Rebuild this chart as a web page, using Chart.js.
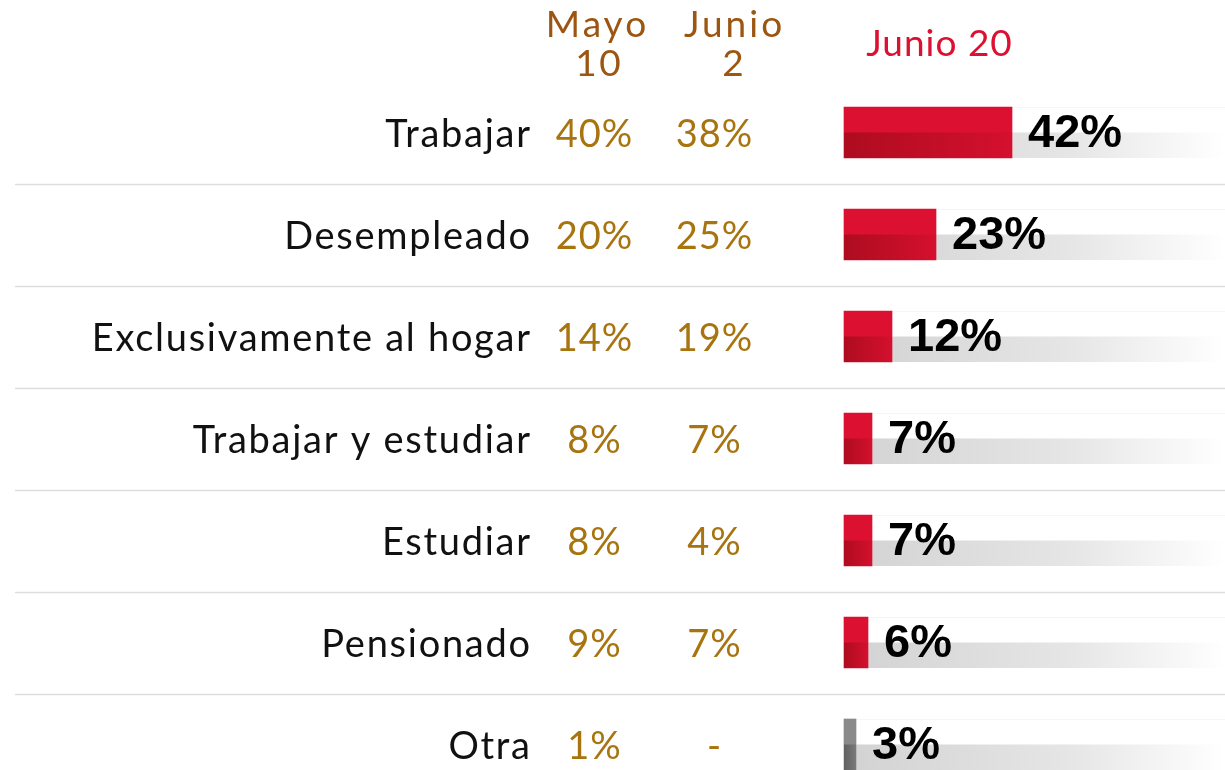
<!DOCTYPE html>
<html lang="es">
<head>
<meta charset="utf-8">
<title>Actividad principal</title>
<script src="https://cdn.jsdelivr.net/npm/chart.js@4.4.1/dist/chart.umd.min.js"></script>
<style>
    html, body { margin: 0; padding: 0; background: #ffffff; }
    #contenedor { width: 1225px; height: 770px; position: relative; }
</style>
</head>
<body>
<div id="contenedor"><canvas id="graficaActividad"></canvas></div>
<script>
// Categorías (filas de la tabla)
const categorias = ['Trabajar', 'Desempleado', 'Exclusivamente al hogar', 'Trabajar y estudiar', 'Estudiar', 'Pensionado', 'Otra'];

// Mediciones anteriores (se muestran como texto)
const mayo10 = [40, 20, 14, 8, 8, 9, 1];
const junio2 = [38, 25, 19, 7, 4, 7, null];

// Medición actual (barras)
const junio20 = [42, 23, 12, 7, 7, 6, 3];

// Encabezados de columna
const encabezadoMayo = ['Mayo', '10'];
const encabezadoJunio = ['Junio', '2'];
const encabezadoActual = 'Junio 20';

// Colores
const ROJO = '#dc1030';
const ROJO_OSCURO = '#ae0c20';
const GRIS = '#8a8a8a';
const GRIS_OSCURO = '#606060';
const CAFE = '#9c5612';
const DORADO = '#a8740f';
const FUENTE = 'Lato, "Noto Sans", sans-serif';

// Posiciones de las columnas de texto
const X_ETIQUETA = 530;
const X_MAYO = 594;
const X_JUNIO = 714;
const ANCHO_ETIQUETA_MAX = 440; // ancho de la etiqueta más larga

// Dibuja texto con espaciado entre letras (compensa el espacio final)
function textoAjustado(ctx, texto, x, y, espaciado) {
    ctx.letterSpacing = espaciado + 'px';
    let dx = 0;
    if (ctx.textAlign === 'right') dx = espaciado;
    if (ctx.textAlign === 'center') dx = espaciado / 2;
    ctx.fillText(texto, x + dx, y);
    ctx.letterSpacing = '0px';
}

// Plugin: columnas de texto, encabezados y líneas separadoras
const tablaTexto = {
    id: 'tablaTexto',
    beforeDatasetsDraw(chart) {
        const ctx = chart.ctx;
        const y = chart.scales.y;
        const area = chart.chartArea;
        const paso = y.getPixelForValue(1) - y.getPixelForValue(0);

        ctx.save();
        // Líneas separadoras entre filas
        ctx.strokeStyle = '#dedede';
        ctx.lineWidth = 1.5;
        for (let i = 0; i < categorias.length - 1; i++) {
            const yl = Math.round(y.getPixelForValue(i) + paso / 2) + 0.5;
            ctx.beginPath();
            ctx.moveTo(15, yl);
            ctx.lineTo(chart.width, yl);
            ctx.stroke();
        }

        // Pista gris bajo cada barra (mitad inferior)
        const meta = chart.getDatasetMeta(0);
        meta.data.forEach((barra) => {
            const arriba = barra.y - barra.height / 2;
            const medio = barra.y;
            const abajo = barra.y + barra.height / 2;
            const grad = ctx.createLinearGradient(barra.base, 0, area.right, 0);
            grad.addColorStop(0, '#d2d2d2');
            grad.addColorStop(0.6, '#e6e6e6');
            grad.addColorStop(1, '#ffffff');
            ctx.fillStyle = grad;
            ctx.fillRect(barra.base, medio, area.right - barra.base, abajo - medio);
            ctx.fillStyle = '#f6f6f6';
            ctx.fillRect(barra.base, arriba, area.right - barra.base, 1);
        });

        // Etiquetas de categoría: espaciado calculado según la más larga
        ctx.textBaseline = 'middle';
        ctx.font = '400 38px ' + FUENTE;
        const larga = categorias.reduce((a, b) => (b.length > a.length ? b : a));
        const espEtiqueta = (ANCHO_ETIQUETA_MAX - ctx.measureText(larga).width) / larga.length;

        categorias.forEach((cat, i) => {
            const yc = y.getPixelForValue(i) + 2;
            ctx.fillStyle = '#111111';
            ctx.textAlign = 'right';
            textoAjustado(ctx, cat, X_ETIQUETA, yc, espEtiqueta);
            ctx.fillStyle = DORADO;
            ctx.textAlign = 'center';
            textoAjustado(ctx, mayo10[i] + '%', X_MAYO, yc, 1);
            textoAjustado(ctx, junio2[i] === null ? '-' : junio2[i] + '%', X_JUNIO, yc, 1);
        });

        // Encabezados
        ctx.font = '400 37px ' + FUENTE;
        ctx.fillStyle = CAFE;
        ctx.textAlign = 'center';
        textoAjustado(ctx, encabezadoMayo[0], 596, 25, 3);
        textoAjustado(ctx, encabezadoMayo[1], 598, 64, 2.5);
        textoAjustado(ctx, encabezadoJunio[0], 733, 25, 3);
        textoAjustado(ctx, encabezadoJunio[1], 733, 64, 2.5);
        ctx.fillStyle = ROJO;
        textoAjustado(ctx, encabezadoActual, 939, 44, 1);
        ctx.restore();
    },
    afterDatasetsDraw(chart) {
        const ctx = chart.ctx;
        const meta = chart.getDatasetMeta(0);
        ctx.save();
        meta.data.forEach((barra, i) => {
            const esOtra = i === categorias.length - 1;
            // Mitad inferior más oscura con degradado horizontal
            const grad = ctx.createLinearGradient(barra.base, 0, barra.x, 0);
            grad.addColorStop(0, esOtra ? GRIS_OSCURO : ROJO_OSCURO);
            grad.addColorStop(1, esOtra ? '#7a7a7a' : '#d4102e');
            ctx.fillStyle = grad;
            ctx.fillRect(barra.base, barra.y, barra.x - barra.base, barra.height / 2);

            // Valor en negritas a la derecha de la barra
            ctx.fillStyle = '#000000';
            ctx.font = 'bold 47px "Liberation Sans", Arial, sans-serif';
            ctx.textAlign = 'left';
            ctx.textBaseline = 'middle';
            ctx.fillText(junio20[i] + '%', barra.x + 16, barra.y + 2);
        });
        ctx.restore();
    }
};

const ctx = document.getElementById('graficaActividad').getContext('2d');

const grafica = new Chart(ctx, {
    type: 'bar',
    data: {
        labels: categorias,
        datasets: [{
            label: encabezadoActual,
            data: junio20,
            backgroundColor: categorias.map((c, i) => i === categorias.length - 1 ? GRIS : ROJO),
            borderWidth: 0,
            barThickness: 51,
            clip: false
        }]
    },
    options: {
        indexAxis: 'y',
        responsive: true,
        maintainAspectRatio: false,
        animation: false,
        layout: {
            padding: { left: 844, right: 0, top: 132.5, bottom: 25.5 }
        },
        scales: {
            x: { display: false, min: 0, max: 95.25 },
            y: { display: false, offset: false }
        },
        plugins: {
            legend: { display: false },
            tooltip: { enabled: false }
        }
    },
    plugins: [tablaTexto]
});
</script>
</body>
</html>
